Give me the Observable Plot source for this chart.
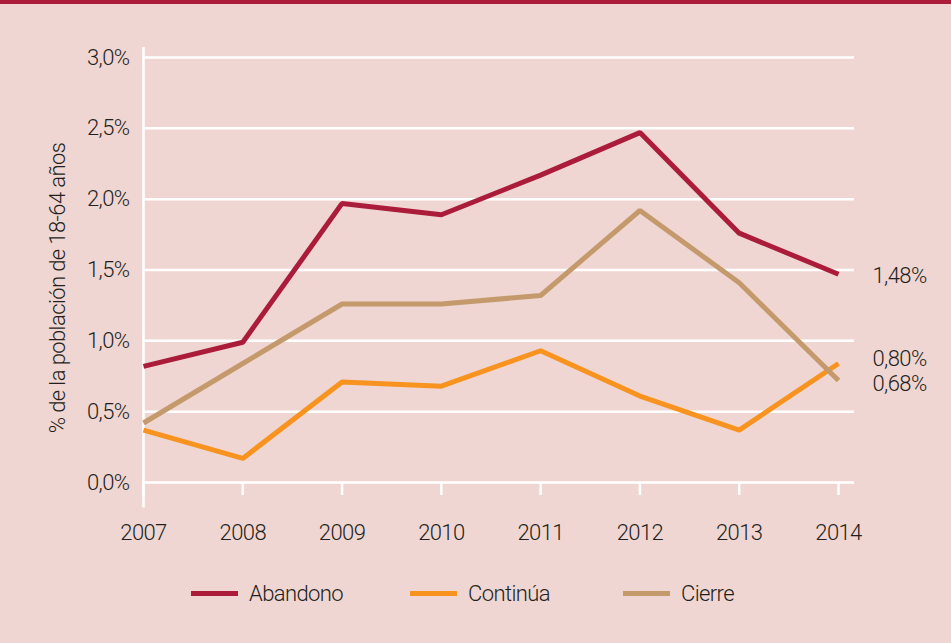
<!DOCTYPE html>
<html>
<head>
<meta charset="utf-8">
<script src="https://cdn.jsdelivr.net/npm/d3@7"></script>
<script src="https://cdn.jsdelivr.net/npm/@observablehq/plot@0.6"></script>
<style>
  html, body { margin: 0; padding: 0; }
  body { width: 951px; height: 643px; background: #F0D6D2; overflow: hidden;
         font-family: Roboto, sans-serif; font-weight: 300; color: #231F20; }
  #band { height: 4px; background: #AA1C3A; }
  #legend { position: absolute; top: 560px; left: 0; width: 951px; height: 66px; }
  .item { position: absolute; top: 0; height: 66px; display: flex; align-items: center; font-size: 22px; letter-spacing: -0.6px; }
  .sw { width: 47px; height: 5px; margin-right: 11px; }
  svg text { font-weight: 300; letter-spacing: -0.6px; }
</style>
</head>
<body>
<div id="band"></div>
<div id="chart"></div>
<div id="legend"></div>
<script>
const years = [2007, 2008, 2009, 2010, 2011, 2012, 2013, 2014];
const series = ["Abandono", "Continúa", "Cierre"];
const colors = ["#AA1C3A", "#F7931E", "#C49A6C"];
const abandono = [0.82, 0.99, 1.97, 1.89, 2.17, 2.47, 1.76, 1.47];
const continua = [0.37, 0.17, 0.71, 0.68, 0.93, 0.61, 0.37, 0.84];
const cierre   = [0.42, 0.84, 1.26, 1.26, 1.32, 1.92, 1.41, 0.72];
const endLabels = ["1,48%", "0,80%", "0,68%"];
const yTicks = [0, 0.5, 1, 1.5, 2, 2.5, 3];
const yTitle = "% de la población de 18-64 años";

const values = [abandono, continua, cierre];
const data = series.flatMap((s, i) => years.map((y, j) => ({series: s, year: y, value: values[i][j]})));
const ends = series.map((s, i) => ({series: s, year: 2014, value: values[i][7], label: endLabels[i]}));
const fmt = d => d.toFixed(1).replace(".", ",") + "%";

const chart = Plot.plot({
  width: 951,
  height: 556,
  marginTop: 53,
  marginLeft: 143,
  marginRight: 97,
  marginBottom: 78,
  style: {background: "transparent", fontFamily: "Roboto, sans-serif", fontSize: "22px", color: "#231F20"},
  x: {domain: [2007, 2014], range: [143, 838]},
  y: {domain: [0, 3]},
  color: {domain: series, range: colors},
  marks: [
    Plot.ruleY(yTicks, {stroke: "white", strokeWidth: 2.5}),
    Plot.ruleX([2007], {y1: 3.07, y2: -0.18, stroke: "white", strokeWidth: 2.5}),
    Plot.axisX(years, {tickSize: 13, tickPadding: 29, stroke: "white", strokeWidth: 2.5, tickFormat: d => String(d), fill: "#231F20", fontSize: 22, label: null}),
    Plot.axisY(yTicks, {tickSize: 0, tickPadding: 14, tickFormat: fmt, fill: "#231F20", fontSize: 22, label: null}),
    Plot.text([yTitle], {frameAnchor: "left", textAnchor: "middle", rotate: -90, dx: -86, dy: 18, fontSize: 22, fill: "#231F20"}),
    Plot.line(data, {x: "year", y: "value", z: "series", stroke: "series", strokeWidth: 5, strokeLinejoin: "miter", strokeLinecap: "butt"}),
    Plot.text([ends[0]], {x: "year", y: "value", text: "label", textAnchor: "start", dx: 34, dy: 2, fontSize: 22, fill: "#231F20"}),
    Plot.text([ends[1]], {x: "year", y: "value", text: "label", textAnchor: "start", dx: 34, dy: -5, fontSize: 22, fill: "#231F20"}),
    Plot.text([ends[2]], {x: "year", y: "value", text: "label", textAnchor: "start", dx: 34, dy: 3, fontSize: 22, fill: "#231F20"})
  ]
});
document.getElementById("chart").appendChild(chart);

const lg = document.getElementById("legend");
const lefts = [191, 410, 623];
series.forEach((s, i) => {
  const it = document.createElement("div");
  it.className = "item";
  it.style.left = lefts[i] + "px";
  const sw = document.createElement("div");
  sw.className = "sw";
  sw.style.background = colors[i];
  const t = document.createElement("span");
  t.textContent = s;
  it.appendChild(sw); it.appendChild(t);
  lg.appendChild(it);
});
</script>
</body>
</html>
